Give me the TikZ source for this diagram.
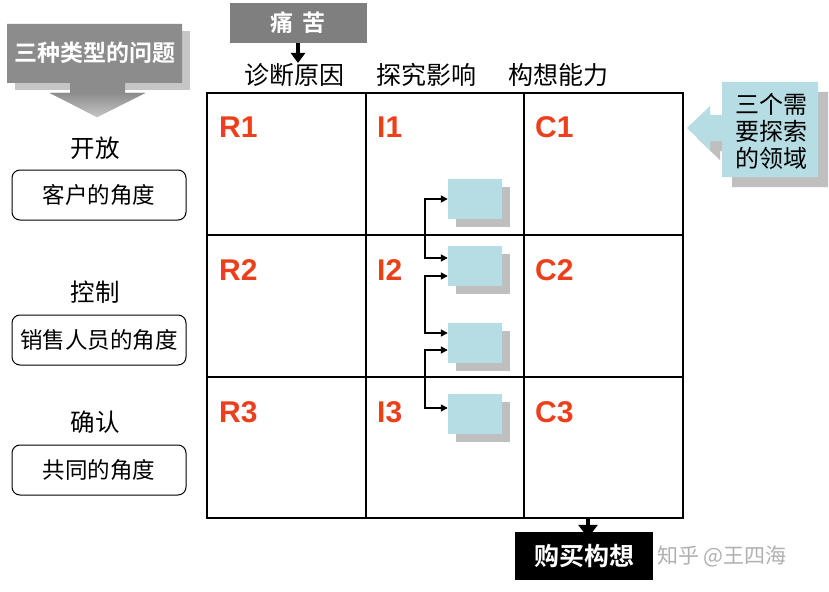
\documentclass[tikz,border=0pt]{standalone}
\usepackage{fontspec}
\setmainfont{Liberation Sans}
\newfontfamily\cjk{Noto Sans CJK SC}
\newfontfamily\cjkb{Noto Sans CJK SC Bold}
\usetikzlibrary{arrows.meta,shadows,positioning}
\definecolor{redlab}{HTML}{EE3F1B}
\definecolor{lblue}{HTML}{B6DDE3}
\definecolor{shgray}{HTML}{BFBFBF}
\definecolor{midgray}{HTML}{8C8C8C}
\definecolor{topgray}{HTML}{7F7F7F}
\definecolor{lgray}{HTML}{C6C6C6}
\definecolor{wmgray}{HTML}{B0B0B0}
\tikzset{
  cell/.style={anchor=base west, inner sep=0pt, text=redlab, font=\fontsize{30}{32}\selectfont\bfseries},
  hdr/.style={inner sep=0pt, font=\cjk\fontsize{25}{28}\selectfont},
  sbox/.style={fill=lblue, minimum width=54pt, minimum height=40pt, inner sep=0pt,
    drop shadow={shadow xshift=8pt, shadow yshift=-8pt, fill=shgray, opacity=1}},
  pbox/.style={draw=black, line width=1pt, rounded corners=8pt, minimum width=174pt, minimum height=50pt, inner sep=0pt, font=\cjk\fontsize{22.5}{26}\selectfont},
  ptitle/.style={inner sep=0pt, font=\cjk\fontsize{24.5}{28}\selectfont},
  conn/.style={line width=1.6pt, {Triangle[length=7pt,width=7pt]}-{Triangle[length=7pt,width=7pt]}},
  grid line/.style={line width=2.5pt},
}
\begin{document}
\begin{tikzpicture}[x=1pt,y=-1pt]
\useasboundingbox (0,0) rectangle (829,591);
\fill[white] (0,0) rectangle (829,591);

% left block arrow
\fill[lgray] (15,31) -- (190,31) -- (190,90) -- (15,90) -- cycle;
\fill[midgray] (7,24) -- (182,24) -- (182,83) -- (125,83) -- (125,93) -- (145,93) -- (97,117) -- (50,93) -- (70,93) -- (70,83) -- (7,83) -- cycle;
\shade[top color=midgray, bottom color=lgray] (50,93) -- (145,93) -- (97,117) -- cycle;
\node[inner sep=0pt, text=white, font=\cjkb\fontsize{23}{26}\selectfont] (types) at (95,53) {三种类型的问题};

% top pain box
\node[fill=topgray, minimum width=137pt, minimum height=40pt, inner sep=0pt, text=white, font=\cjkb\fontsize{23}{26}\selectfont] (pain) at (298,23) {痛\hspace{9pt}苦};
\coordinate (painend) at (298,63);
\draw[line width=3.5pt, -{Triangle[length=10pt,width=14pt]}] (pain.south) -- (painend);

% headers
\node[hdr] (h1) at (294,75) {诊断原因};
\node[hdr] (h2) at (426,75) {探究影响};
\node[hdr] (h3) at (558,75) {构想能力};

% grid
\draw[grid line] (207,93) rectangle (683,518);
\draw[grid line] (366,93) -- (366,518);
\draw[grid line] (524,93) -- (524,518);
\draw[grid line] (207,235) -- (683,235);
\draw[grid line] (207,377) -- (683,377);

% cell labels
\node[cell] (r1) at (219,137) {R1};
\node[cell] (i1) at (377,137) {I1};
\node[cell] (c1) at (535,137) {C1};
\node[cell] (r2) at (219,280) {R2};
\node[cell] (i2) at (377,280) {I2};
\node[cell] (c2) at (535,280) {C2};
\node[cell] (r3) at (219,422) {R3};
\node[cell] (i3) at (377,422) {I3};
\node[cell] (c3) at (535,422) {C3};

% small boxes
\node[sbox] (b1) at (475,199) {};
\node[sbox] (b2) at (475,266) {};
\node[sbox] (b3) at (475,343) {};
\node[sbox] (b4) at (475,414) {};

% connectors
\draw[conn] (b1.west) -- ++(-23,0) |- ([yshift=8pt]b2.west);
\draw[conn] ([yshift=-10pt]b2.west) -- ++(-23,0) |- ([yshift=10pt]b3.west);
\draw[conn] ([yshift=-7pt]b3.west) -- ++(-23,0) |- ([yshift=6pt]b4.west);

% right callout
\begin{scope}[shift={(10,10)}]
\fill[shgray] (722,82) -- (818,82) -- (818,177) -- (722,177) -- (722,141) -- (710,141) -- (710,150) -- (687,128) -- (710,106) -- (710,115) -- (722,115) -- cycle;
\end{scope}
\fill[lblue] (722,82) -- (818,82) -- (818,177) -- (722,177) -- (722,141) -- (710,141) -- (710,150) -- (687,128) -- (710,106) -- (710,115) -- (722,115) -- cycle;
\node[inner sep=0pt, align=center, font=\cjk\fontsize{24}{27}\selectfont] (areas) at (771,131) {三个需\\要探索\\的领域};

% left perspective labels
\node[ptitle] (t1) at (95,148) {开放};
\node[pbox] (p1) at (99,195) {客户的角度};
\node[ptitle] (t2) at (95,292) {控制};
\node[pbox] (p2) at (99,340) {销售人员的角度};
\node[ptitle] (t3) at (95,422) {确认};
\node[pbox] (p3) at (99,470) {共同的角度};

% bottom buy box
\node[fill=black, minimum width=138pt, minimum height=48pt, inner sep=0pt, text=white, font=\cjkb\fontsize{25}{28}\selectfont] (buy) at (584,556) {购买构想};
\coordinate (gridbot) at (588,518);
\draw[line width=4pt, -{Triangle[length=13pt,width=19pt]}] (gridbot) -- ([yshift=-6pt]gridbot |- buy.north);

% watermark
\node[inner sep=0pt, text=wmgray, font=\cjk\fontsize{21}{24}\selectfont, anchor=west] (wm) at (657,556) {知乎 @王四海};
\end{tikzpicture}
\end{document}
